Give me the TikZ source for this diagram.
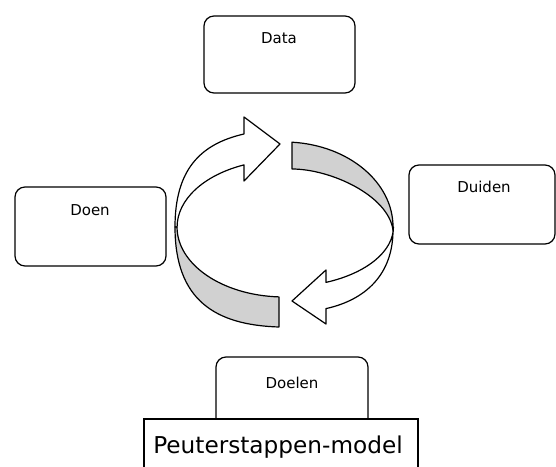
\documentclass[tikz,border=0pt]{standalone}
\usepackage{fontspec}
\setmainfont{DejaVu Sans}
\begin{document}
\begin{tikzpicture}[x=1pt,y=1pt,
  box/.style={draw, line width=1.2pt, rounded corners=10pt, fill=white, inner sep=0pt},
  lbl/.style={font=\fontsize{15}{18}\selectfont, inner sep=0pt, anchor=base},
  band/.style={draw, line width=1.2pt, line join=round},
  whiteband/.style={band, fill=white},
  grayband/.style={band, fill=black!18}]
\useasboundingbox (0,0) rectangle (556,466);
\clip (0,0) rectangle (556,466);
% boxes
\node[box, minimum width=151pt, minimum height=77pt] (data) at (279.5,411.5) {};
\node[lbl] (datat) at (279,422) {Data};
\node[box, minimum width=151pt, minimum height=79pt] (doen) at (90.5,239.5) {};
\node[lbl] (doent) at (90,250) {Doen};
\node[box, minimum width=146pt, minimum height=79pt] (duiden) at (482,261.5) {};
\node[lbl] (duident) at (484,273) {Duiden};
\node[box, minimum width=152pt, minimum height=79pt] (doelen) at (292,69.5) {};
\node[lbl] (doelent) at (292,78) {Doelen};
\node[draw, line width=1.4pt, fill=white, minimum width=274pt, minimum height=67pt] (peuter) at (281,13.5) {};
\node[font=\fontsize{23.2}{28}\selectfont, inner sep=0pt, anchor=base] (peutert) at (278,13) {Peuterstappen-model};
% circular arrows
\draw[whiteband] (175,239) .. controls (175,296) and (200,322) .. (244,332)
  -- (244,349) -- (280,322) -- (244,285) -- (244,301.1)
  arc[start angle=112,end angle=180,x radius=107,y radius=67] -- cycle;
\draw[grayband] (292,323.8) arc[start angle=85.8,end angle=0,x radius=109,y radius=85]
  -- (393,236) .. controls (388,271) and (330,297) .. (292,297) -- cycle;
\draw[whiteband] (393,236) .. controls (393,191) and (365,166) .. (326,157.4)
  -- (326,142) -- (292,165) -- (326,196) -- (326,183.6)
  arc[start angle=-67.6,end angle=0,x radius=109,y radius=60] -- cycle;
\draw[grayband] (175,239) .. controls (175,166) and (215,141) .. (279,139)
  -- (279,169.1) arc[start angle=267.3,end angle=180,x radius=107,y radius=70] -- cycle;
\end{tikzpicture}
\end{document}
